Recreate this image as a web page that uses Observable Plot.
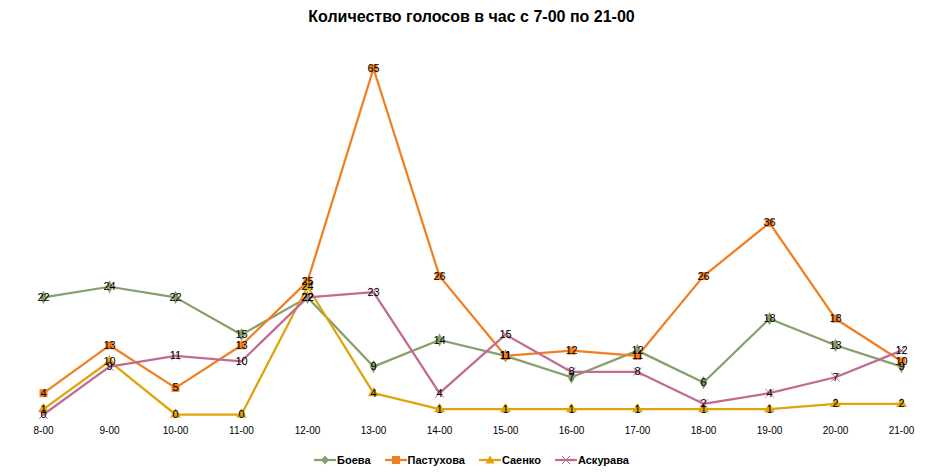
<!DOCTYPE html>
<html><head><meta charset="utf-8">
<script src="https://cdn.jsdelivr.net/npm/d3@7"></script>
<script src="https://cdn.jsdelivr.net/npm/@observablehq/plot@0.6"></script>
<style>
body{margin:0;background:#fff;font-family:"Liberation Sans",Arial,sans-serif;}
#title{height:34px;line-height:34px;text-align:center;font-weight:bold;font-size:16px;color:#000;}
#legend{display:flex;justify-content:center;gap:14px;font-size:11px;font-weight:bold;margin-top:15px;margin-left:0px}
#legend span{display:flex;align-items:center;gap:1px}
</style></head>
<body>
<div id="title">Количество голосов в час с 7-00 по 21-00</div>
<div id="chart"></div>
<div id="legend"></div>
<script>
const hours = ["8-00","9-00","10-00","11-00","12-00","13-00","14-00","15-00","16-00","17-00","18-00","19-00","20-00","21-00"];
const seriesNames = ["Боева","Пастухова","Саенко","Аскурава"];
const boeva     = [22,24,22,15,22,9,14,11,7,12,6,18,13,9];
const pastukhova= [4,13,5,13,25,65,26,11,12,11,26,36,18,10];
const saenko    = [1,10,0,0,24,4,1,1,1,1,1,1,2,2];
const askurava  = [0,9,11,10,22,23,4,15,8,8,2,4,7,12];
const colors = ["#869f6b","#f07f22","#dfa40a","#c26a91"];
const symbols = ["diamond","square","triangle","times"];

const values = [boeva,pastukhova,saenko,askurava];
const data = [];
seriesNames.forEach((s,i)=>values[i].forEach((v,j)=>data.push({series:s,hour:hours[j],value:v})));

const marks = [];
seriesNames.forEach((s,i)=>{
  const d = data.filter(r=>r.series===s);
  marks.push(Plot.line(d,{x:"hour",y:"value",stroke:colors[i],strokeWidth:2.25}));
});
seriesNames.forEach((s,i)=>{
  const d = data.filter(r=>r.series===s);
  if (symbols[i]==="times")
    marks.push(Plot.dot(d,{x:"hour",y:"value",symbol:"times",r:4,stroke:colors[i],strokeWidth:1}));
  else
    marks.push(Plot.dot(d,{x:"hour",y:"value",symbol:symbols[i],r:symbols[i]==="square"?4.5:4,fill:colors[i],stroke:"none"}));
});
seriesNames.forEach((s,i)=>{
  const d = data.filter(r=>r.series===s);
  marks.push(Plot.text(d,{x:"hour",y:"value",text:"value",fill:"#000",fontSize:11}));
});
marks.push(Plot.axisX({tickSize:0,tickPadding:12,fontSize:10,label:null}));

const chart = Plot.plot({
  width:943,height:405,
  marginLeft:43,marginRight:42,marginTop:34,marginBottom:25,
  style:{fontFamily:"Liberation Sans, Arial, sans-serif",fontSize:"10px",color:"#000"},
  x:{type:"point",domain:hours,padding:0,label:null},
  y:{domain:[0,65],axis:null},
  marks
});
document.getElementById("chart").appendChild(chart);

const leg = document.getElementById("legend");
seriesNames.forEach((s,i)=>{
  const sp = document.createElement("span");
  const sym = symbols[i];
  let m;
  if (sym==="diamond") m = `<path d="M11,1.5 L15,6 L11,10.5 L7,6Z" fill="${colors[i]}"/>`;
  else if (sym==="square") m = `<rect x="7" y="2" width="8" height="8" fill="${colors[i]}"/>`;
  else if (sym==="triangle") m = `<path d="M11,1.5 L15.5,9.5 L6.5,9.5Z" fill="${colors[i]}"/>`;
  else m = `<path d="M7,2 L15,10 M15,2 L7,10" stroke="${colors[i]}" stroke-width="1"/>`;
  sp.innerHTML = `<svg width="22" height="12"><line x1="0" y1="6" x2="22" y2="6" stroke="${colors[i]}" stroke-width="2.25"/>${m}</svg>${s}`;
  leg.appendChild(sp);
});
</script>
</body></html>
